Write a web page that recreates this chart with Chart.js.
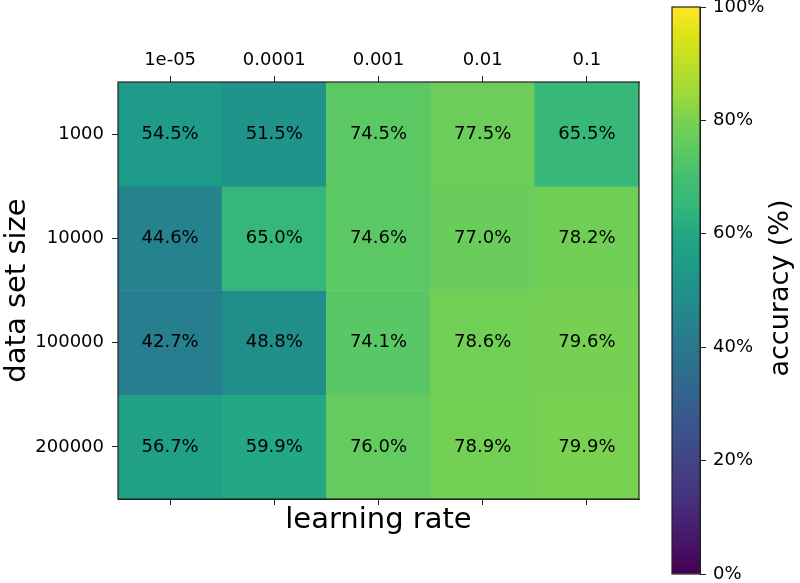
<!DOCTYPE html>
<html>
<head>
<meta charset="utf-8">
<script src="https://cdn.jsdelivr.net/npm/chart.js@4"></script>
<style>
  body { margin: 0; background: #fff; }
  #wrap { position: relative; width: 800px; height: 583px; }
  #heat { position: absolute; left: 0; top: 0; }
  #bar { position: absolute; left: 655px; top: 0; }
</style>
</head>
<body>
<div id="wrap">
  <canvas id="heat" width="660" height="583"></canvas>
  <canvas id="bar" width="145" height="583"></canvas>
</div>
<script>
// chart values
const learningRates = ["1e-05", "0.0001", "0.001", "0.01", "0.1"];
const dataSetSizes = ["1000", "10000", "100000", "200000"];
const acc1000 = [54.5, 51.5, 74.5, 77.5, 65.5];
const acc10000 = [44.6, 65.0, 74.6, 77.0, 78.2];
const acc100000 = [42.7, 48.8, 74.1, 78.6, 79.6];
const acc200000 = [56.7, 59.9, 76.0, 78.9, 79.9];
const colorbarTicks = [0, 20, 40, 60, 80, 100];

const accuracy = [acc1000, acc10000, acc100000, acc200000];

// viridis colour map, sampled every 0.05
const viridis = ["#440154","#471365","#482475","#453781","#414487","#3b528b","#355f8d","#2f6c8e","#2a788e","#25848e",
                 "#21918c","#1e9c89","#22a884","#35b779","#44bf70","#5ec962","#7ad151","#9fda3a","#bddf26","#dfe318","#fde725"];
function hexRgb(h){ return [1,3,5].map(i => parseInt(h.substr(i,2),16)); }
function cmap(t){
  t = Math.min(1, Math.max(0, t));
  const p = t * (viridis.length - 1);
  const i = Math.min(viridis.length - 2, Math.floor(p));
  const f = p - i;
  const a = hexRgb(viridis[i]), b = hexRgb(viridis[i+1]);
  const c = a.map((v,k) => Math.round(v + (b[k]-v)*f));
  return `rgb(${c[0]},${c[1]},${c[2]})`;
}

const FONT = "'DejaVu Sans', sans-serif";
const INK = '#222';

const cellText = {
  id: 'cellText',
  afterDatasetsDraw(chart){
    const ctx = chart.ctx;
    ctx.save();
    ctx.font = `18px ${FONT}`;
    ctx.fillStyle = '#000';
    ctx.textAlign = 'center';
    ctx.textBaseline = 'middle';
    chart.data.datasets.forEach((ds, i) => {
      chart.getDatasetMeta(i).data.forEach((el, j) => {
        ctx.fillText(accuracy[i][j].toFixed(1) + '%', el.x, (el.y + el.base) / 2);
      });
    });
    ctx.restore();
  }
};

const frame = {
  id: 'frame',
  afterDraw(chart){
    const a = chart.chartArea, ctx = chart.ctx;
    ctx.save();
    ctx.strokeStyle = INK;
    ctx.lineWidth = 1.2;
    ctx.strokeRect(a.left, a.top, a.right - a.left, a.bottom - a.top);
    ctx.restore();
  }
};

new Chart(document.getElementById('heat'), {
  type: 'bar',
  data: {
    labels: learningRates,
    datasets: dataSetSizes.map((size, i) => ({
      label: size,
      data: learningRates.map(() => [i, i + 1]),
      backgroundColor: accuracy[i].map(v => cmap(v / 100)),
      borderWidth: 0,
      barPercentage: 1,
      categoryPercentage: 1,
      grouped: false
    }))
  },
  options: {
    responsive: false,
    animation: false,
    layout: { padding: { left: 0, right: 21, top: 0, bottom: 41 } },
    plugins: { legend: { display: false }, tooltip: { enabled: false } },
    scales: {
      x: {
        position: 'top',
        grid: { drawOnChartArea: false, offset: false, tickLength: 6, color: INK },
        border: { display: true, color: INK },
        ticks: { color: '#000', font: { family: FONT, size: 18 }, padding: 5, maxRotation: 0 },
        afterFit(s){ s.height = 82; }
      },
      x2: {
        type: 'category',
        labels: learningRates,
        offset: true,
        position: 'bottom',
        grid: { drawOnChartArea: false, offset: false, tickLength: 6, color: INK },
        border: { display: true, color: INK },
        ticks: { display: false },
        title: { display: true, text: 'learning rate', color: '#000', font: { family: FONT, size: 29 } },
        afterFit(s){ s.height = 43; }
      },
      y: {
        min: 0,
        max: dataSetSizes.length,
        reverse: true,
        grid: { drawOnChartArea: false, tickLength: 6, color: INK },
        border: { display: true, color: INK },
        afterBuildTicks(s){ s.ticks = dataSetSizes.map((l, i) => ({ value: i + 0.5 })); },
        ticks: {
          color: '#000',
          font: { family: FONT, size: 18 },
          padding: 8,
          callback: (v, i) => dataSetSizes[i]
        },
        title: { display: true, text: 'data set size', color: '#000', font: { family: FONT, size: 29 }, padding: { top: 0, bottom: 0 } },
        afterFit(s){ s.width = 118; }
      }
    }
  },
  plugins: [cellText, frame]
});

const barTitle = {
  id: 'barTitle',
  afterDraw(chart){
    const ctx = chart.ctx;
    ctx.save();
    ctx.font = `27px ${FONT}`;
    ctx.fillStyle = '#000';
    ctx.textAlign = 'center';
    ctx.textBaseline = 'middle';
    ctx.translate(126, 288);
    ctx.rotate(-Math.PI / 2);
    ctx.fillText('accuracy (%)', 0, 0);
    ctx.restore();
  }
};

new Chart(document.getElementById('bar'), {
  type: 'bar',
  data: {
    labels: [''],
    datasets: [{
      data: [[colorbarTicks[0], colorbarTicks[colorbarTicks.length - 1]]],
      backgroundColor(c){
        const ch = c.chart, a = ch.chartArea;
        if (!a) return '#888';
        const g = ch.ctx.createLinearGradient(0, a.bottom, 0, a.top);
        for (let k = 0; k <= 20; k++) g.addColorStop(k / 20, cmap(k / 20));
        return g;
      },
      borderWidth: 0,
      barPercentage: 1,
      categoryPercentage: 1
    }]
  },
  options: {
    responsive: false,
    animation: false,
    layout: { padding: { left: 17, right: 0, top: 7, bottom: 9 } },
    plugins: { legend: { display: false }, tooltip: { enabled: false } },
    scales: {
      x: { display: false },
      y: {
        position: 'right',
        min: 0,
        max: 100,
        grid: { drawOnChartArea: false, tickLength: 6, color: INK },
        border: { display: true, color: INK },
        afterBuildTicks(s){ s.ticks = colorbarTicks.map(v => ({ value: v })); },
        ticks: { color: '#000', font: { family: FONT, size: 18 }, padding: 7, callback: v => v + '%' },
        afterFit(s){ s.width = 100; s.paddingTop = 0; s.paddingBottom = 0; }
      }
    }
  },
  plugins: [frame, barTitle]
});
</script>
</body>
</html>
